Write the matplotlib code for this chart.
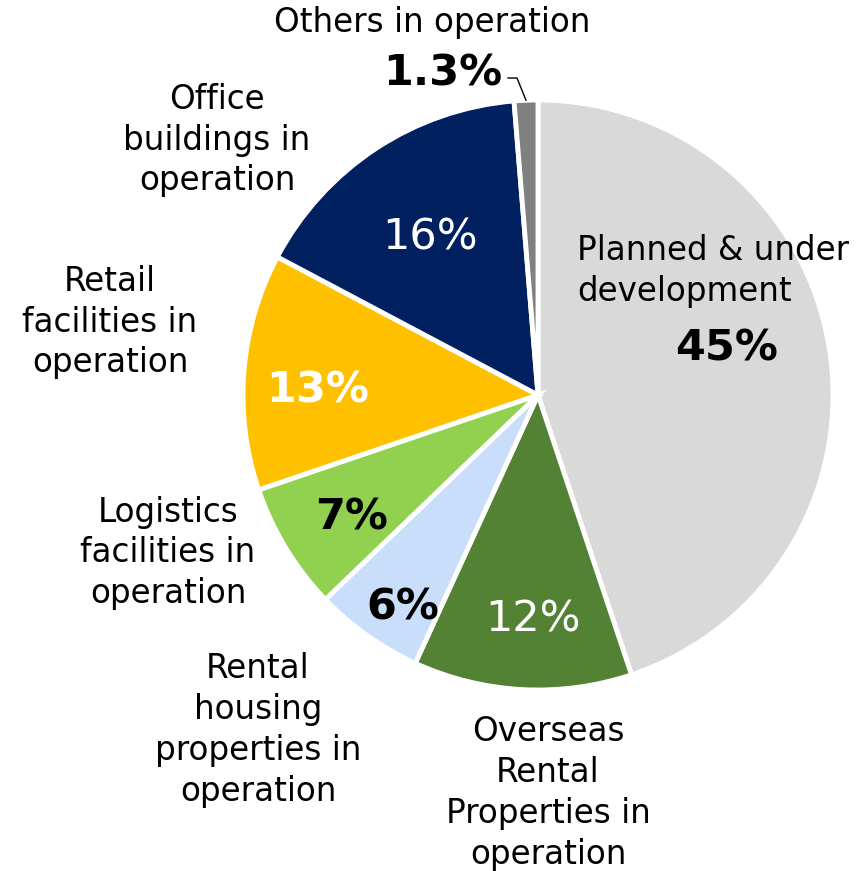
import matplotlib
matplotlib.use("Agg")
import matplotlib.pyplot as plt
import numpy as np

categories = ["Planned & under\ndevelopment",
              "Overseas\nRental\nProperties in\noperation",
              "Rental\nhousing\nproperties in\noperation",
              "Logistics\nfacilities in\noperation",
              "Retail\nfacilities in\noperation",
              "Office\nbuildings in\noperation",
              "Others in operation"]
values = [45, 12, 6, 7, 13, 16, 1.3]
pct_labels = ["45%", "12%", "6%", "7%", "13%", "16%", "1.3%"]
colors = ["#D9D9D9", "#548235", "#C9DEFA", "#92D050", "#FFC000", "#002060", "#808080"]
pct_colors = ["black", "white", "black", "black", "white", "white", "black"]
pct_weights = ["bold", "normal", "bold", "bold", "bold", "normal", "bold"]

W, H = 868, 871
fig = plt.figure(figsize=(W / 100, H / 100), dpi=100)
ax = fig.add_axes([0, 0, 1, 1])
ax.axis("off")


def Y(y):
    return H - y


cx, cy, R = 538, 395, 295
wedges, _ = ax.pie(values, colors=colors, startangle=90, counterclock=False,
                   radius=R, center=(cx, Y(cy)),
                   wedgeprops=dict(edgecolor="white", linewidth=3.5))
ax.set_xlim(0, W)
ax.set_ylim(0, H)
ax.set_aspect("equal")

fam = ["DejaVu Sans"]
# percent labels (pixel positions)
pct_pos = [(727, 348), (533, 620), (403, 607), (352, 518), (318, 390), (430, 237), (443, 73)]
for (x, y), t, c, w in zip(pct_pos, pct_labels, pct_colors, pct_weights):
    ax.text(x, Y(y), t, ha="center", va="center", fontsize=31, color=c,
            fontweight=w, family=fam)

# category labels
cat_pos = [(577, 271, "left"), (548, 793, "center"), (258, 730, "center"),
           (168, 553, "center"), (110, 322, "center"), (217, 140, "center"),
           (432, 22, "center")]
for (x, y, ha), t in zip(cat_pos, categories):
    ax.text(x, Y(y), t, ha=ha, va="center", fontsize=23.5, color="black",
            family=fam, linespacing=1.3, multialignment=ha)

# leader line for Others
ang = np.deg2rad(90 - 360 * (sum(values) - values[-1] / 2) / sum(values))
ex, ey = cx + R * np.cos(ang), cy - R * np.sin(ang)
ax.plot([508, 517, ex], [Y(78), Y(78), Y(ey)], color="black", lw=1)

fig.savefig("out.png", dpi=100)
